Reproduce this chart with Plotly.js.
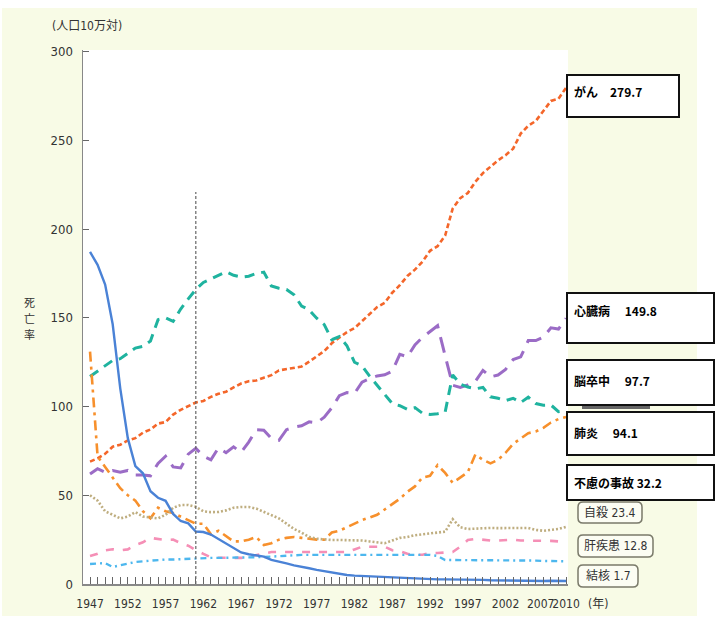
<!DOCTYPE html>
<html>
<head>
<meta charset="utf-8">
<script src="https://cdn.plot.ly/plotly-3.0.1.min.js"></script>
<style>html,body{margin:0;padding:0;background:#fff;}#chart{width:715px;height:621px;}</style>
</head>
<body>
<div id="chart"></div>
<script>
const years = [1947,1948,1949,1950,1951,1952,1953,1954,1955,1956,1957,1958,1959,1960,1961,1962,1963,1964,1965,1966,1967,1968,1969,1970,1971,1972,1973,1974,1975,1976,1977,1978,1979,1980,1981,1982,1983,1984,1985,1986,1987,1988,1989,1990,1991,1992,1993,1994,1995,1996,1997,1998,1999,2000,2001,2002,2003,2004,2005,2006,2007,2008,2009,2010];
const xTickVals = [1947,1952,1957,1962,1967,1972,1977,1982,1987,1992,1997,2002,2007,2010];
const xTickText = ["1947","1952","1957","1962","1967","1972","1977","1982","1987","1992","1997","2002","2007","2010"];
const yTickVals = [0,50,100,150,200,250,300];
const markerYear = 1961;
const markerTop = 221;

const seriesNames = ["がん","心臓病","脳卒中","肺炎","不慮の事故","自殺","肝疾患","結核"];
const labelTexts = ["がん　279.7","心臓病　 149.8","脳卒中　 97.7","肺炎　 94.1","不慮の事故 32.2","自殺 23.4","肝疾患 12.8","結核 1.7"];
const yTitleChars = ["死","亡","率"];

const ganVals = [69.0,70.8,73.4,77.4,78.5,80.9,82.2,85.3,87.1,90.4,91.3,95.5,98.2,100.4,102.3,103.2,105.5,107.2,108.4,110.8,113.0,114.3,114.7,116.3,117.7,120.4,121.2,122.2,122.6,125.3,128.4,131.3,135.7,139.1,142.0,144.2,148.3,152.5,156.1,158.5,164.2,168.4,173.6,177.2,181.7,187.8,190.4,196.4,211.6,217.5,220.4,226.7,231.6,235.2,238.8,241.7,245.4,253.9,258.3,261.0,266.9,272.3,273.5,279.7];
const shinVals = [62,65,63,64,63,64,61.5,61.5,61,68,72,66,65.4,73.2,76.5,72,70,76.7,74,77.3,74.2,80,86.9,86.7,82,81,87,88.4,89.2,91.4,90.9,94.0,99.3,106.2,107.9,107.4,113.8,115.8,117.3,117.9,120,129.4,128.1,134.8,139,142.2,145.6,128.6,112.0,110.8,112.2,114.3,120.4,116.8,117.8,121.0,126.5,128,137.2,137.2,139.2,144.4,143.7,149.8];
const nouVals = [117,120,123,126,127,130,133,134,137,149,150,148,155,160.7,166,170,172,174,176,174,173,173.5,175,175.8,168,166.7,166,163,156.7,154.5,149.8,146.2,137.7,139.5,134.3,125.0,123.0,117.2,112.2,106.9,101.7,100.5,98.5,99.4,96.2,95.6,96.0,96.9,117.9,112.6,111.0,110.0,110.8,105.5,104.7,103.4,104.7,102.3,105.3,101.7,100.8,100.9,97.2,97.7];
const haienVals = [131,72,66,60,54,50,47,41,37,43,41,40,38,36,34,34,28,30,27,24,24,25,26.5,22,23,25,26,26.5,26,25.5,25,25,29,30,32,34.4,36,37.5,39,42,45,48,52,55,60,61,67,62.6,57,60,63,73,70,68,70,74,79,82,85,86,88,91,93,94.1];
const jikoVals = [50,47,41,39,37,38,40.5,38,37.5,37,39,43,44.5,44.5,43.5,41,40.5,40.6,41.5,43,43.4,43.4,42.5,40.6,39,37,34,31,29,26.5,25.5,25,24.8,24.8,24.8,24.8,24.5,24,23.5,23,24.5,26,26.5,27.5,28,28.5,28.8,29.5,36.5,32,31,31.3,31.6,31.6,31.5,31.5,31.6,31.5,31.6,30.5,30,30.5,31,32.2];
const jisatsuVals = [15.8,17,19,19.6,19,19.5,22,23.5,26,25.5,24.8,25,23,21.6,19,17,15,14.8,14.7,15,14.7,15.5,16.4,17,18,18,18,18,18,18,18,18,18,18,18,19.5,21,21,21,21,19,18.5,17,16.4,16.5,17.5,17.5,17.8,18,21,24.8,25.4,24.8,24.5,24.5,24.8,25,24.5,24.5,24.3,24.3,24.3,24,23.4];
const kanVals = [11.3,11.5,11.8,9.6,10.5,11.5,12.4,12.8,13.2,13.5,13.8,13.8,14,14.2,14.7,14.7,14.7,14.7,14.7,14.7,14.9,15,15.1,15.2,15.5,15.8,16,16.4,16.4,16.4,16.4,16.4,16.4,16.4,16.4,16.4,16.4,16.4,16.4,16.4,16.4,16.4,16.4,16.4,16.4,16.4,15.8,13.5,13.5,13.5,13.5,13.5,13.5,13.5,13.5,13.5,13.5,13.5,13.5,13.2,13.0,13.0,12.9,12.8];
const kekkakuVals = [187.2,179.9,168.8,146.4,110.3,82.2,66.5,62.4,52.3,48.6,46.9,39.5,35.5,34.2,29.6,29.3,27.9,25.3,22.8,20.3,17.8,16.8,16.1,15.4,13.6,12.4,11.6,10.5,9.5,8.9,8.0,7.3,6.3,5.5,5.1,4.7,4.5,4.4,3.9,3.8,3.5,3.2,3.0,3.0,2.8,2.8,2.6,2.6,2.6,2.3,2.2,2.2,2.3,2.1,2.0,1.8,1.9,1.8,1.8,1.8,1.7,1.8,1.7,1.7];

const seriesVals = [ganVals,shinVals,nouVals,haienVals,jikoVals,jisatsuVals,kanVals,kekkakuVals];
const styles = [
  {color:'#f4662a', dash:'5px,3px', width:2.6},
  {color:'#9b6cc6', dash:'16px,9px', width:3},
  {color:'#1fb39f', dash:'10px,7px', width:3},
  {color:'#f7902c', dash:'10px,5px,3px,5px', width:2.6},
  {color:'#bfae80', dash:'2px,2px', width:2.6},
  {color:'#f58fb6', dash:'8px,9px', width:2.6},
  {color:'#4db7ee', dash:'6px,4px,2px,4px', width:2.4},
  {color:'#4a82d6', dash:'solid', width:2.4}
];

const traces = seriesVals.map((v,i)=>({
  x: years, y: v, type:'scatter', mode:'lines', name: seriesNames[i],
  line: {color: styles[i].color, dash: styles[i].dash, width: styles[i].width},
  hoverinfo:'skip'
}));

// layout helpers: pixel -> paper
const L=83, R=568, T=50, B=584;
const px = x => (x-L)/(R-L);
const py = y => (B-y)/(B-T);
function roundRect(x0,y0,x1,y1,r){
  return `M ${px(x0+r)},${py(y0)} L ${px(x1-r)},${py(y0)} Q ${px(x1)},${py(y0)} ${px(x1)},${py(y0+r)} `+
         `L ${px(x1)},${py(y1-r)} Q ${px(x1)},${py(y1)} ${px(x1-r)},${py(y1)} `+
         `L ${px(x0+r)},${py(y1)} Q ${px(x0)},${py(y1)} ${px(x0)},${py(y1-r)} `+
         `L ${px(x0)},${py(y0+r)} Q ${px(x0)},${py(y0)} ${px(x0+r)},${py(y0)} Z`;
}
const bg = '#f8fbe6';
const shapes = [
  {type:'rect', xref:'paper', yref:'paper', x0:px(2), x1:px(697), y0:py(616), y1:py(8), fillcolor:bg, line:{width:0}, layer:'below'},
  {type:'rect', xref:'paper', yref:'paper', x0:0, x1:1, y0:0, y1:1, fillcolor:'#ffffff', line:{width:0}, layer:'below'},
  {type:'line', xref:'x', yref:'y', x0:markerYear, x1:markerYear, y0:0, y1:markerTop, line:{color:'#666', width:1.2, dash:'3px,2px'}},
];
const boxes = [[567,75,679,117],[567,293,714,343],[567,360,714,405],[567,412,714,455],[567,465,714,500]];
const boxTextY = [92,310,380,432,482];
boxes.forEach(b=>{
  shapes.push({type:'rect', xref:'paper', yref:'paper', x0:px(b[0]), x1:px(b[2]), y0:py(b[3]), y1:py(b[1]), fillcolor:'#ffffff', line:{color:'#111', width:2}});
});
shapes.push({type:'rect', xref:'paper', yref:'paper', x0:px(582), x1:px(650), y0:py(409), y1:py(406), fillcolor:'#666', line:{width:0}});
const rboxes = [[578,502,642,523],[578,535,653,557],[578,565,638,587]];
rboxes.forEach(b=>{
  shapes.push({type:'path', xref:'paper', yref:'paper', path: roundRect(b[0],b[1],b[2],b[3],5), fillcolor:'rgba(255,255,255,0.5)', line:{color:'#7a7a6a', width:1.5}});
});

const cjk = "'Noto Sans CJK JP', sans-serif";
const narrow = "'Liberation Sans Narrow', 'DejaVu Sans Condensed', 'Noto Sans CJK JP', sans-serif";
const annotations = [];
boxTextY.forEach((y,i)=>{
  annotations.push({xref:'paper', yref:'paper', x:px(572), y:py(y), xanchor:'left', yanchor:'middle', showarrow:false,
    text:'<b>'+labelTexts[i]+'</b>', font:{family:cjk, size:12, color:'#000'}});
});
rboxes.forEach((b,j)=>{
  annotations.push({xref:'paper', yref:'paper', x:px((b[0]+b[2])/2), y:py((b[1]+b[3])/2), xanchor:'center', yanchor:'middle', showarrow:false,
    text:labelTexts[5+j], font:{family:narrow, size:12, color:'#333'}});
});
annotations.push({xref:'paper', yref:'paper', x:px(50), y:py(26), xanchor:'left', yanchor:'middle', showarrow:false,
  text:'(人口10万対)', font:{family:narrow, size:12, color:'#333'}});
annotations.push({xref:'paper', yref:'paper', x:px(586), y:py(604), xanchor:'left', yanchor:'middle', showarrow:false,
  text:'(年)', font:{family:narrow, size:12, color:'#333'}});
yTitleChars.forEach((c,k)=>{
  annotations.push({xref:'paper', yref:'paper', x:px(29), y:py(302+k*16), xanchor:'center', yanchor:'middle', showarrow:false,
    text:c, font:{family:cjk, size:11, color:'#333'}});
});
// the 2007 label sits squeezed against 2010 (as in the reference)
const shiftedIdx = xTickVals.indexOf(2007);
const axisTickText = xTickText.map((t,i)=> i===shiftedIdx ? '' : t);
annotations.push({xref:'paper', yref:'paper', x:px(556), y:py(604), xanchor:'right', yanchor:'middle', showarrow:false,
  text:xTickText[shiftedIdx], font:{family:narrow, size:12, color:'#333'}});

const layout = {
  width:715, height:621,
  margin:{l:L, r:715-R, t:T, b:621-B, pad:0},
  paper_bgcolor:'#ffffff', plot_bgcolor:'#ffffff',
  showlegend:false,
  xaxis:{range:[1946.07, 2010.26], tickvals:xTickVals, ticktext:axisTickText, tickangle:0, ticks:'inside', ticklen:7, tickcolor:'#666', tickwidth:1,
    minor:{tickmode:'linear', tick0:1947, dtick:1, ticks:'inside', ticklen:7, tickcolor:'#666', tickwidth:1},
    showline:true, linecolor:'#888', linewidth:1.5, showgrid:false, zeroline:false,
    tickfont:{family:narrow, size:12, color:'#333'}, ticklabelstandoff:8},
  yaxis:{range:[0,301], tickvals:yTickVals, ticks:'inside', ticklen:6, tickcolor:'#666', showline:true, linecolor:'#888', linewidth:1.5,
    showgrid:false, zeroline:false, tickfont:{family:narrow, size:13, color:'#333'}, ticklabelstandoff:6},
  shapes:shapes, annotations:annotations
};
Plotly.newPlot('chart', traces, layout, {staticPlot:true});
</script>
</body>
</html>
